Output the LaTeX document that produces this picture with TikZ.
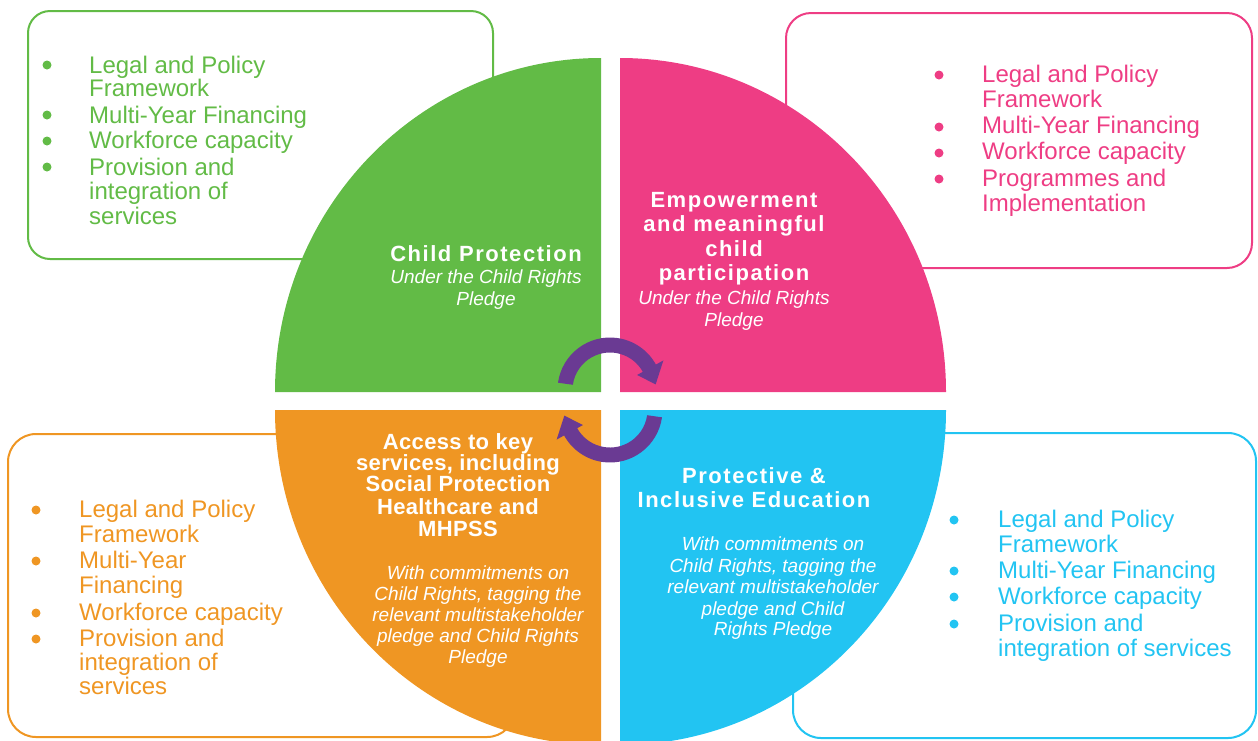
\documentclass[tikz,border=0pt]{standalone}
\usepackage{fontspec}
\setmainfont{Liberation Sans}
\newfontfamily\ttlA{Liberation Sans}[LetterSpace=7]
\newfontfamily\ttlB{Liberation Sans}[LetterSpace=1.5]
\usetikzlibrary{calc}
\definecolor{cgreen}{HTML}{62BB46}
\definecolor{cpink}{HTML}{EE3D84}
\definecolor{corange}{HTML}{EF9623}
\definecolor{cblue}{HTML}{22C4F2}
\definecolor{cpurple}{HTML}{6A3A93}
\tikzset{
  boxline/.style={draw=#1, line width=2pt},
  itemtext/.style={text=#1, anchor=base west, inner sep=0pt, font=\fontsize{24}{26}\selectfont},
  dot/.style={fill=#1, draw=none, circle, inner sep=0pt, minimum size=9pt},
  titleA/.style={text=white, anchor=base, inner sep=0pt, font=\ttlA\bfseries\fontsize{22}{24}\selectfont},
  titleB/.style={text=white, anchor=base, inner sep=0pt, font=\ttlB\bfseries\fontsize{22}{24}\selectfont},
  sub/.style={text=white, anchor=base, inner sep=0pt, font=\itshape\fontsize{19}{21}\selectfont},
  arrowfill/.style={fill=cpurple, draw=none}
}
\begin{document}
\begin{tikzpicture}[x=1pt,y=1pt]
\useasboundingbox (0,0) rectangle (1258,-740);
% ---------- boxes ----------
\draw[boxline=cgreen, rounded corners=22pt] (28,-11) rectangle (493,-259);
\draw[boxline=cpink, rounded corners=25pt] (786,-13) rectangle (1252,-268);
\draw[boxline=corange, rounded corners=28pt] (8,-434) rectangle (515,-737);
\draw[boxline=cblue, rounded corners=28pt] (793,-433) rectangle (1256,-738);
% ---------- quadrants ----------
\fill[cgreen] (601,-392) -- (275,-392) arc[start angle=180, end angle=90, x radius=326, y radius=334] -- cycle;
\fill[cpink] (620,-392) -- (946,-392) arc[start angle=0, end angle=90, x radius=326, y radius=334] -- cycle;
\fill[corange] (601,-410) -- (275,-410) arc[start angle=180, end angle=270, x radius=326, y radius=335] -- cycle;
\fill[cblue] (620,-410) -- (946,-410) arc[start angle=0, end angle=-90, x radius=326, y radius=335] -- cycle;
% ---------- circular arrows ----------
\coordinate (ca) at (610,-390);
\coordinate (cb) at (610,-410);
\fill[arrowfill] ($(ca)+(172:52.5)$) arc[start angle=172, end angle=29, radius=52.5]
  -- ($(ca)+(29:61)$) -- ($(ca)+(7:46)$) -- ($(ca)+(29:31)$) -- ($(ca)+(29:37.5)$)
  arc[start angle=29, end angle=172, radius=37.5] -- cycle;
\fill[arrowfill] ($(cb)+(-8:52.5)$) arc[start angle=-8, end angle=-151, radius=52.5]
  -- ($(cb)+(-151:61)$) -- ($(cb)+(-173:46)$) -- ($(cb)+(-151:31)$) -- ($(cb)+(-151:37.5)$)
  arc[start angle=-151, end angle=-8, radius=37.5] -- cycle;
% ---------- green box text ----------
\node[dot=cgreen] (g1d) at (47,-65) {};
\node[itemtext=cgreen] (g1a) at (89,-73) {Legal and Policy};
\node[itemtext=cgreen] (g1b) at (89,-96) {Framework};
\node[dot=cgreen] (g2d) at (47,-115) {};
\node[itemtext=cgreen] (g2a) at (89,-123) {Multi-Year Financing};
\node[dot=cgreen] (g3d) at (47,-141) {};
\node[itemtext=cgreen] (g3a) at (89,-148) {Workforce capacity};
\node[dot=cgreen] (g4d) at (47,-167) {};
\node[itemtext=cgreen] (g4a) at (89,-175) {Provision and};
\node[itemtext=cgreen] (g4b) at (89,-199) {integration of};
\node[itemtext=cgreen] (g4c) at (89,-224) {services};
% ---------- pink box text ----------
\node[dot=cpink] (p1d) at (939,-75) {};
\node[itemtext=cpink] (p1a) at (982,-82) {Legal and Policy};
\node[itemtext=cpink] (p1b) at (982,-107) {Framework};
\node[dot=cpink] (p2d) at (939,-127) {};
\node[itemtext=cpink] (p2a) at (982,-133) {Multi-Year Financing};
\node[dot=cpink] (p3d) at (939,-153) {};
\node[itemtext=cpink] (p3a) at (982,-159) {Workforce capacity};
\node[dot=cpink] (p4d) at (939,-179) {};
\node[itemtext=cpink] (p4a) at (982,-186) {Programmes and};
\node[itemtext=cpink] (p4b) at (982,-211) {Implementation};
% ---------- orange box text ----------
\node[dot=corange] (o1d) at (36,-510) {};
\node[itemtext=corange] (o1a) at (79,-517) {Legal and Policy};
\node[itemtext=corange] (o1b) at (79,-542) {Framework};
\node[dot=corange] (o2d) at (36,-561) {};
\node[itemtext=corange] (o2a) at (79,-568) {Multi-Year};
\node[itemtext=corange] (o2b) at (79,-593) {Financing};
\node[dot=corange] (o3d) at (36,-613) {};
\node[itemtext=corange] (o3a) at (79,-620) {Workforce capacity};
\node[dot=corange] (o4d) at (36,-639) {};
\node[itemtext=corange] (o4a) at (79,-646) {Provision and};
\node[itemtext=corange] (o4b) at (79,-670) {integration of};
\node[itemtext=corange] (o4c) at (79,-694) {services};
% ---------- blue box text ----------
\node[dot=cblue] (b1d) at (954,-520) {};
\node[itemtext=cblue] (b1a) at (998,-527) {Legal and Policy};
\node[itemtext=cblue] (b1b) at (998,-552) {Framework};
\node[dot=cblue] (b2d) at (954,-571) {};
\node[itemtext=cblue] (b2a) at (998,-578) {Multi-Year Financing};
\node[dot=cblue] (b3d) at (954,-597) {};
\node[itemtext=cblue] (b3a) at (998,-604) {Workforce capacity};
\node[dot=cblue] (b4d) at (954,-624) {};
\node[itemtext=cblue] (b4a) at (998,-631) {Provision and};
\node[itemtext=cblue] (b4b) at (998,-656) {integration of services};
% ---------- green quadrant text ----------
\node[titleA] (gt1) at (486,-261) {Child Protection};
\node[sub] (gs1) at (486,-283) {Under the Child Rights};
\node[sub] (gs2) at (486,-305) {Pledge};
% ---------- pink quadrant text ----------
\node[titleA] (pt1) at (734,-207) {Empowerment};
\node[titleA] (pt2) at (734,-231) {and meaningful};
\node[titleA] (pt3) at (734,-256) {child};
\node[titleA] (pt4) at (734,-280) {participation};
\node[sub] (ps1) at (734,-304) {Under the Child Rights};
\node[sub] (ps2) at (734,-326) {Pledge};
% ---------- orange quadrant text ----------
\node[titleB] (ot1) at (458,-449) {Access to key};
\node[titleB] (ot2) at (458,-470) {services, including};
\node[titleB] (ot3) at (458,-491) {Social Protection};
\node[titleB] (ot4) at (458,-514) {Healthcare and};
\node[titleB] (ot5) at (458,-536) {MHPSS};
\node[sub] (os1) at (478,-579) {With commitments on};
\node[sub] (os2) at (478,-600) {Child Rights, tagging the};
\node[sub] (os3) at (478,-621) {relevant multistakeholder};
\node[sub] (os4) at (478,-642) {pledge and Child Rights};
\node[sub] (os5) at (478,-663) {Pledge};
% ---------- blue quadrant text ----------
\node[titleA] (bt1) at (754,-483) {Protective \&};
\node[titleA] (bt2) at (754,-507) {Inclusive Education};
\node[sub] (bs1) at (773,-550) {With commitments on};
\node[sub] (bs2) at (773,-572) {Child Rights, tagging the};
\node[sub] (bs3) at (773,-593) {relevant multistakeholder};
\node[sub] (bs4) at (773,-615) {pledge and Child};
\node[sub] (bs5) at (773,-635) {Rights Pledge};
\end{tikzpicture}
\end{document}
